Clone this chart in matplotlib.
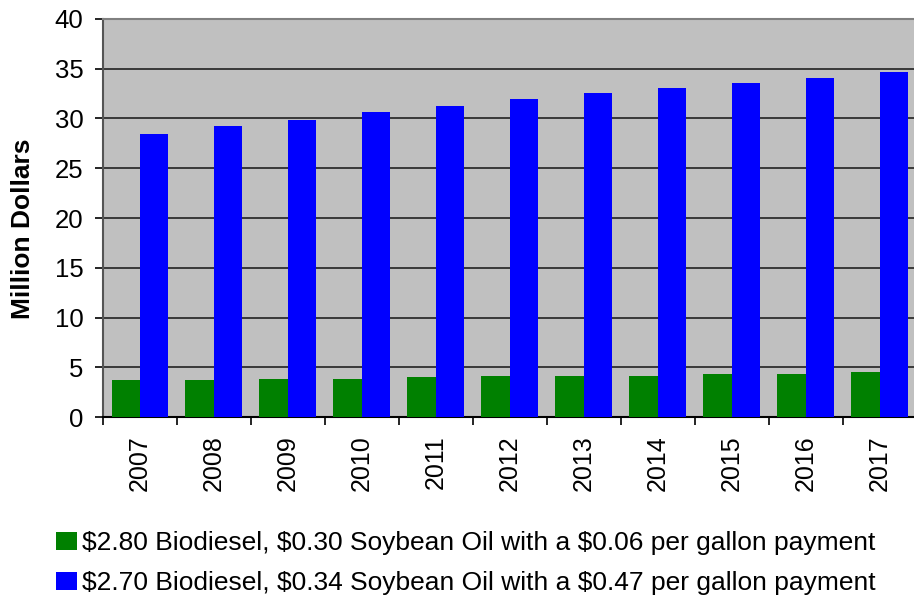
import numpy as np
import matplotlib
matplotlib.use("Agg")
from matplotlib import pyplot as plt

years = ["2007", "2008", "2009", "2010", "2011", "2012",
         "2013", "2014", "2015", "2016", "2017"]
low_payment = [3.73, 3.73, 3.83, 3.83, 4.03, 4.13, 4.13, 4.13, 4.33, 4.33, 4.53]
high_payment = [28.4, 29.2, 29.85, 30.65, 31.26, 31.96, 32.56, 33.07, 33.57, 34.07, 34.67]
labels = ["$2.80 Biodiesel, $0.30 Soybean Oil with a $0.06 per gallon payment",
          "$2.70 Biodiesel, $0.34 Soybean Oil with a $0.47 per gallon payment"]

plt.rcParams["font.family"] = ["Liberation Sans", "DejaVu Sans"]

fig = plt.figure(figsize=(9.14, 5.99), dpi=100)
ax = fig.add_axes([0.1127, 0.3038, 0.8903, 0.6645])
ax.set_facecolor("#c0c0c0")

x = np.arange(len(years))
w = 0.385
ax.bar(x - w / 2, low_payment, w, color="#008000", label=labels[0], zorder=3)
ax.bar(x + w / 2, high_payment, w, color="#0000ff", label=labels[1], zorder=3)

ax.set_xlim(-0.5, len(years) - 0.5)
ax.set_ylim(0, 40)
ax.set_yticks(range(0, 41, 5))
ax.yaxis.grid(True, color="#222222", linewidth=1.2, zorder=1)
ax.set_axisbelow(True)

ax.set_xticks(x)
ax.set_xticklabels(years, rotation=90)
ax.set_xticks(np.arange(-0.5, len(years), 1.0), minor=True)
ax.tick_params(axis="x", which="major", length=0, pad=13, labelsize=18)
ax.tick_params(axis="x", which="minor", length=6, width=1.2, color="black")
ax.tick_params(axis="y", length=6, width=1.2, pad=8, labelsize=18.5)

ax.spines["top"].set_color("#808080")
ax.spines["top"].set_linewidth(1.5)
ax.spines["right"].set_visible(False)
ax.spines["left"].set_color("#555555")
ax.spines["left"].set_linewidth(1.5)
ax.spines["bottom"].set_linewidth(1.5)

fig.text(23 / 914, 0.6177, "Million Dollars", rotation=90, fontsize=19,
         fontweight="bold", ha="center", va="center")

fig.legend(loc="upper left", bbox_to_anchor=(0.0613, 0.1135), frameon=False,
           fontsize=19, handlelength=0.8, handleheight=0.7, handletextpad=0.2,
           labelspacing=0.62, borderpad=0, borderaxespad=0)

fig.savefig("out.png", dpi=100)
